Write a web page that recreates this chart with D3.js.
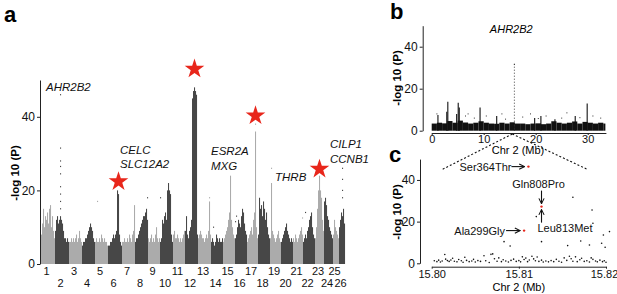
<!DOCTYPE html>
<html><head><meta charset="utf-8">
<script src="https://cdn.jsdelivr.net/npm/d3@7"></script>
<style>
body{margin:0;background:#fff;}
svg{font-family:"Liberation Sans",Arial,sans-serif;}
</style></head><body>
<svg id="fig" width="617" height="294"></svg>
<script>
// ---- panel a: max -log10(P) per plotted column, one array per chromosome
const chromNames=d3.range(1,27).map(String);
const chromCols=[
  [8,11,15,10,13,12,14,11,15,16,10,13,9,7],
  [9,12,13,11,12,13,12,11,9,7,7,6,7,6],
  [6,6,7,6,7,6,7,8,6,7,9,7,6],
  [5,6,6,7,7,8,9,10,11,10,9,7,6],
  [6,7,6,6,7,6,8,7,6,7,6,6,5],
  [5,5,6,6,7,8,7,8,9,20,19,8,6,5],
  [6,6,7,6,6,7,6,8,7,6,8,9,16],
  [6,7,7,8,9,10,11,12,13,13,14,15,12],
  [7,6,7,8,6,7,6,8,10,7,6,7],
  [6,7,12,11,13,14,12,20,22,20,19,8,6],
  [8,9,7,7,8,7,6,7,6,7,8,9],
  [9,13,8,7,9,10,12,45,47,48,47,46,8],
  [7,8,9,8,7,7,6,7,8,7,9,17,8],
  [6,7,6,5,6,8,7,6,7,6,6,7],
  [6,7,8,9,10,12,14,24,12,10,8,7],
  [7,8,10,12,11,10,13,15,14,11,9,8],
  [6,7,8,9,10,8,12,14,36,10,7],
  [8,18,15,16,13,17,15,12,14,10,8,7],
  [7,22,9,8,7,6,7,8,9,7,6],
  [6,7,8,9,10,11,9,8,7,6,7,6],
  [7,6,8,7,6,7,8,9,10,8],
  [6,7,8,7,9,10,12,13,14,10,8,7],
  [7,10,15,20,24,20,18,12,9],
  [17,18,16,13,12,10,9,8,7],
  [8,12,10,9,8,7],
  [10,12,14,13,15,11]
];
// isolated points: [chromosome index, column, value]
const aOutliers=[
  [1,5,46],[1,5,31.5],[1,5,28],[1,5,26.5],[1,5,24.5],[1,5,21],[1,5,19],[1,5,17],[1,5,15],
  [4,2,17],[7,12,18],[9,0,18],[14,7,27],[14,7,26],[18,1,26],[20,9,12.5],[21,2,14],
  [25,3,26],[25,3,23],[25,3,20],[25,3,18],[12,11,18],[13,2,10],[15,0,11.5],[15,1,13],[16,8,38]
];
const aGenes=[
  {lines:["AHR2B2"],chrom:1,col:-9,val:47},
  {lines:["CELC","SLC12A2"],chrom:5,col:12,val:30},
  {lines:["ESR2A","MXG"],chrom:13,col:0,val:29.5},
  {lines:["THRB"],chrom:18,col:5,val:22.5},
  {lines:["CILP1","CCNB1"],chrom:23,col:6,val:31.5}
];
const aStars=[[5,10,22.4],[11,9,53],[16,8,40.3],[22,4,25.8]];

// ---- panel b: chromosome 2
const bBand=[3.4,3.8,3.5,4.6,3.8,4.8,3.9,3.4,3.8,4.5,3.8,3.4,3.3,3.8,3.4,4,3.4,3.4,3.1,3.4,3.5,3.1,3.4,4.5,3.8,3.4,3.8,4.4,3.4,4.2,3.8,3.4,3.8,3.4];
const bPeaks=[[3.1,13.8],[2.9,9],[5.1,13.3],[5.3,11],[4.8,8],[9.3,11.1],[12.5,7],[15.9,32],[23.7,5.4],[27.6,7],[29.9,12.9],[1.2,7.5],[19.8,6],[21,7]];
const bDots=[[15.9,46.5],[15.9,31.5],[7,8],[10.5,7],[13.5,8],[17.5,6.5],[19,8],[22,7],[25,6],[26,8.5],[31,7],[32.5,6],[1,8],[6.5,7],[8.2,6],[14.2,5.5],[20.5,5.8],[28.5,6.2]];

// ---- panel c: fine region
const cRedPos=[15.8111,15.8126,15.8106];
const cRedVal=[46.4,27.2,15.7];
const cDots=[[15.8120,22.4],[15.8162,31.7],[15.8184,25.6],[15.8185,19.2],[15.8204,15.2],[15.8197,13.6],[15.8199,7.7],
  [15.8126,10.4],[15.8083,10.4],[15.8090,8.3],[15.8156,8.5],[15.8171,10.7],[15.8181,8.8],[15.8195,9.6]];
const cLow=[[15.8003,1.2],[15.8006,0.8],[15.8008,1.5],[15.8010,0.6],[15.8012,1.1],[15.8015,4.2],[15.8016,2.0],[15.8018,1.3],
  [15.8020,0.9],[15.8022,1.6],[15.8024,2.4],[15.8026,1.0],[15.8029,0.7],[15.8031,1.8],[15.8034,1.2],[15.8036,0.5],[15.8038,2.9],
  [15.8040,1.4],[15.8043,0.8],[15.8046,1.1],[15.8048,1.9],[15.8050,0.6],[15.8053,1.3],[15.8056,0.9],[15.8060,3.6],[15.8062,1.2],
  [15.8066,0.4],[15.8068,4.3],[15.8070,4.5],[15.8072,2.2],[15.8075,1.0],[15.8077,2.6],[15.8080,0.8],[15.8082,1.7],[15.8085,1.1],
  [15.8088,0.6],[15.8091,1.4],[15.8094,2.0],[15.8097,0.9],[15.8100,1.3],[15.8102,0.7],[15.8104,3.1],[15.8106,1.8],[15.8108,2.5],
  [15.8110,0.8],[15.8112,1.6],[15.8115,3.4],[15.8117,2.1],[15.8119,1.2],[15.8121,3.0],[15.8123,0.9],[15.8126,1.5],[15.8128,0.6],
  [15.8131,1.1],[15.8134,0.7],[15.8137,1.3],[15.8140,0.8],[15.8143,1.9],[15.8146,1.0],[15.8149,0.5],[15.8152,2.6],[15.8155,1.4],
  [15.8158,3.4],[15.8160,2.2],[15.8162,1.0],[15.8165,3.1],[15.8167,0.8],[15.8170,1.7],[15.8172,2.4],[15.8175,0.9],[15.8178,1.2],
  [15.8181,0.6],[15.8183,2.6],[15.8185,1.9],[15.8188,1.1],[15.8190,0.7],[15.8193,1.5],[15.8196,0.8],[15.8198,1.2],[15.8200,0.5]];
const cLabels=["Ser364Thr","Gln808Pro","Ala299Gly","Leu813Met"];

const svg=d3.select("#fig");
const light="#ababab",dark="#474747";

function styleAxis(g,fs){
  g.select(".domain").attr("stroke","#222");
  g.selectAll(".tick line").attr("stroke","#222");
  g.selectAll(".tick text").attr("font-size",fs).attr("fill","#111")
    .attr("font-family","'Liberation Sans',Arial,sans-serif");
}
function panelLetter(t,x,y){
  svg.append("text").attr("x",x).attr("y",y).attr("font-size",22).attr("font-weight","bold").text(t);
}
function yTitle(x,y){
  svg.append("text").attr("transform",`translate(${x},${y}) rotate(-90)`)
    .attr("text-anchor","middle").attr("font-size",11.5).attr("font-weight","bold").text("-log 10 (P)");
}

// ================= panel a =================
const offsets=[];let tot=0;
chromCols.forEach(c=>{offsets.push(tot);tot+=c.length;});
const xA=d3.scaleLinear().domain([0,tot]).range([41,345]);
const yA=d3.scaleLinear().domain([0,50]).range([264,80]);

chromCols.forEach((cols,i)=>{
  const col=i%2?dark:light;
  svg.append("g").selectAll("rect").data(cols).enter().append("rect")
    .attr("x",(d,j)=>xA(offsets[i]+j)).attr("width",xA(1)-xA(0)+0.05)
    .attr("y",d=>yA(d)).attr("height",d=>yA(0)-yA(d))
    .attr("fill",col);
});
svg.append("g").selectAll("rect").data(aOutliers).enter().append("rect")
  .attr("x",d=>xA(offsets[d[0]]+d[1])).attr("width",1.1)
  .attr("y",d=>yA(d[2])-0.6).attr("height",1.2)
  .attr("fill",d=>d[0]%2?dark:light);

svg.append("g").attr("transform","translate(40,0)")
  .call(d3.axisLeft(yA).tickValues([0,20,40]).tickSize(3).tickSizeOuter(0).tickPadding(2))
  .call(g=>styleAxis(g,12));
yTitle(19,173);
panelLetter("a",4,22);

// chromosome labels
svg.append("g").selectAll("text").data(chromNames).enter().append("text")
  .attr("x",(d,i)=>xA(offsets[i]+chromCols[i].length/2)-1.5)
  .attr("y",(d,i)=>i%2?287:275)
  .attr("text-anchor","middle").attr("font-size",11).attr("fill","#111").text(d=>d);

// gene labels
aGenes.forEach(gn=>{
  const t=svg.append("text").attr("x",xA(offsets[gn.chrom]+gn.col)).attr("y",yA(gn.val))
    .attr("font-size",11.5).attr("font-style","italic").attr("fill","#111");
  gn.lines.forEach((l,k)=>t.append("tspan").attr("x",xA(offsets[gn.chrom]+gn.col)).attr("dy",k?14.5:0).text(l));
});
svg.append("g").selectAll("path").data(aStars).enter().append("path")
  .attr("d",d3.symbol(d3.symbolStar,120))
  .attr("transform",d=>`translate(${xA(offsets[d[0]]+d[1]+0.5)},${yA(d[2])})`)
  .attr("fill","#e8261b");

// ================= panel b =================
const xB=d3.scaleLinear().domain([0,33.5]).range([431.7,605.9]);
const yB=d3.scaleLinear().domain([0,50]).range([130.7,25.7]);
svg.append("g").selectAll("rect").data(bBand).enter().append("rect")
  .attr("x",(d,i)=>xB(i)).attr("width",(d,i)=>xB(Math.min(i+1,33.4))-xB(i))
  .attr("y",d=>yB(d)).attr("height",d=>yB(0)-yB(d)).attr("fill","#111");
svg.append("g").selectAll("line").data(bPeaks).enter().append("line")
  .attr("x1",d=>xB(d[0])).attr("x2",d=>xB(d[0]))
  .attr("y1",yB(0)).attr("y2",d=>yB(d[1]))
  .attr("stroke","#111").attr("stroke-width",d=>d[1]>20?0.8:1.1)
  .attr("stroke-dasharray",d=>d[1]>20?"1,2":null);
svg.append("g").selectAll("rect").data(bDots).enter().append("rect")
  .attr("x",d=>xB(d[0])-0.5).attr("y",d=>yB(d[1])-0.5).attr("width",1).attr("height",1).attr("fill","#333");

svg.append("g").attr("transform","translate(422.7,0)")
  .call(d3.axisLeft(yB).tickValues([0,20,40]).tickSize(3).tickSizeOuter(0).tickPadding(2))
  .call(g=>styleAxis(g,12));
svg.append("g").attr("transform","translate(0,133)")
  .call(d3.axisBottom(xB).tickValues([0,10,20,30]).tickSize(2).tickSizeOuter(0).tickPadding(0))
  .call(g=>styleAxis(g,11));
svg.append("text").attr("x",518).attr("y",154).attr("text-anchor","middle").attr("font-size",11).text("Chr 2 (Mb)");
svg.append("text").attr("x",xB(15.3)).attr("y",33).attr("text-anchor","middle")
  .attr("font-size",11).attr("font-style","italic").text("AHR2B2");
yTitle(401,78);
panelLetter("b",390,19);

// ================= panel c =================
const xC=d3.scaleLinear().domain([15.80,15.82]).range([431.7,606]);
const yC=d3.scaleLinear().domain([0,50]).range([263.3,159.1]);

// zoom connector
const apex=[xB(15.5),134];
svg.append("g").selectAll("line").data([xC(15.8012),xC(15.8179)]).enter().append("line")
  .attr("x1",apex[0]).attr("y1",apex[1]).attr("x2",d=>d).attr("y2",169.5)
  .attr("stroke","#111").attr("stroke-width",1.1).attr("stroke-dasharray","2,2");

svg.append("g").selectAll("circle").data(cLow.concat(cDots)).enter().append("circle")
  .attr("cx",d=>xC(d[0])).attr("cy",d=>yC(d[1])).attr("r",0.8).attr("fill","#111");
svg.append("g").selectAll("circle").data(cRedPos).enter().append("circle")
  .attr("cx",d=>xC(d)).attr("cy",(d,i)=>yC(cRedVal[i])).attr("r",1.2).attr("fill","#e8261b");

svg.append("g").attr("transform","translate(420,0)")
  .call(d3.axisLeft(yC).tickValues([0,20,40]).tickSize(3).tickSizeOuter(0).tickPadding(2))
  .call(g=>styleAxis(g,12));
svg.append("g").attr("transform","translate(0,266.7)")
  .call(d3.axisBottom(xC).tickValues([15.80,15.81,15.82]).tickFormat(d3.format(".2f")).tickSize(2).tickSizeOuter(0).tickPadding(2))
  .call(g=>styleAxis(g,11))
  .call(g=>g.selectAll(".tick:last-of-type text").attr("dx",-2));
svg.append("text").attr("x",xC(15.81)).attr("y",291).attr("text-anchor","middle").attr("font-size",11).text("Chr 2 (Mb)");
yTitle(401,212);
panelLetter("c",389,162);

// annotations with arrows
svg.append("defs").append("marker").attr("id","ah").attr("viewBox","0 0 8 8")
  .attr("refX",7).attr("refY",4).attr("markerWidth",7).attr("markerHeight",7)
  .attr("markerUnits","userSpaceOnUse").attr("orient","auto")
  .append("path").attr("d","M1,1 L7,4 L1,7").attr("fill","none").attr("stroke","#111").attr("stroke-width",1.2);
function arrow(x1,y1,x2,y2){
  svg.append("line").attr("x1",x1).attr("y1",y1).attr("x2",x2).attr("y2",y2)
    .attr("stroke","#111").attr("stroke-width",1.1).attr("marker-end","url(#ah)");
}
function lab(t,x,y,anchor){
  svg.append("text").attr("x",x).attr("y",y).attr("text-anchor",anchor).attr("font-size",11).attr("fill","#111").text(t);
}
// Ser364Thr
let px=xC(cRedPos[0]),py=yC(cRedVal[0]);
lab(cLabels[0],px-17,py+4,"end");arrow(px-17,py,px-4,py);
// Gln808Pro / Leu813Met
px=xC(cRedPos[1]);py=yC(cRedVal[1]);
lab(cLabels[1],px-3,py-19,"middle");arrow(px,py-16,px,py-3);
arrow(px,py+16,px,py+3);lab(cLabels[3],px-4,py+25,"start");
// Ala299Gly
px=xC(cRedPos[2]);py=yC(cRedVal[2]);
lab(cLabels[2],px-19,py+4,"end");arrow(px-18,py,px-4,py);
</script></body></html>
